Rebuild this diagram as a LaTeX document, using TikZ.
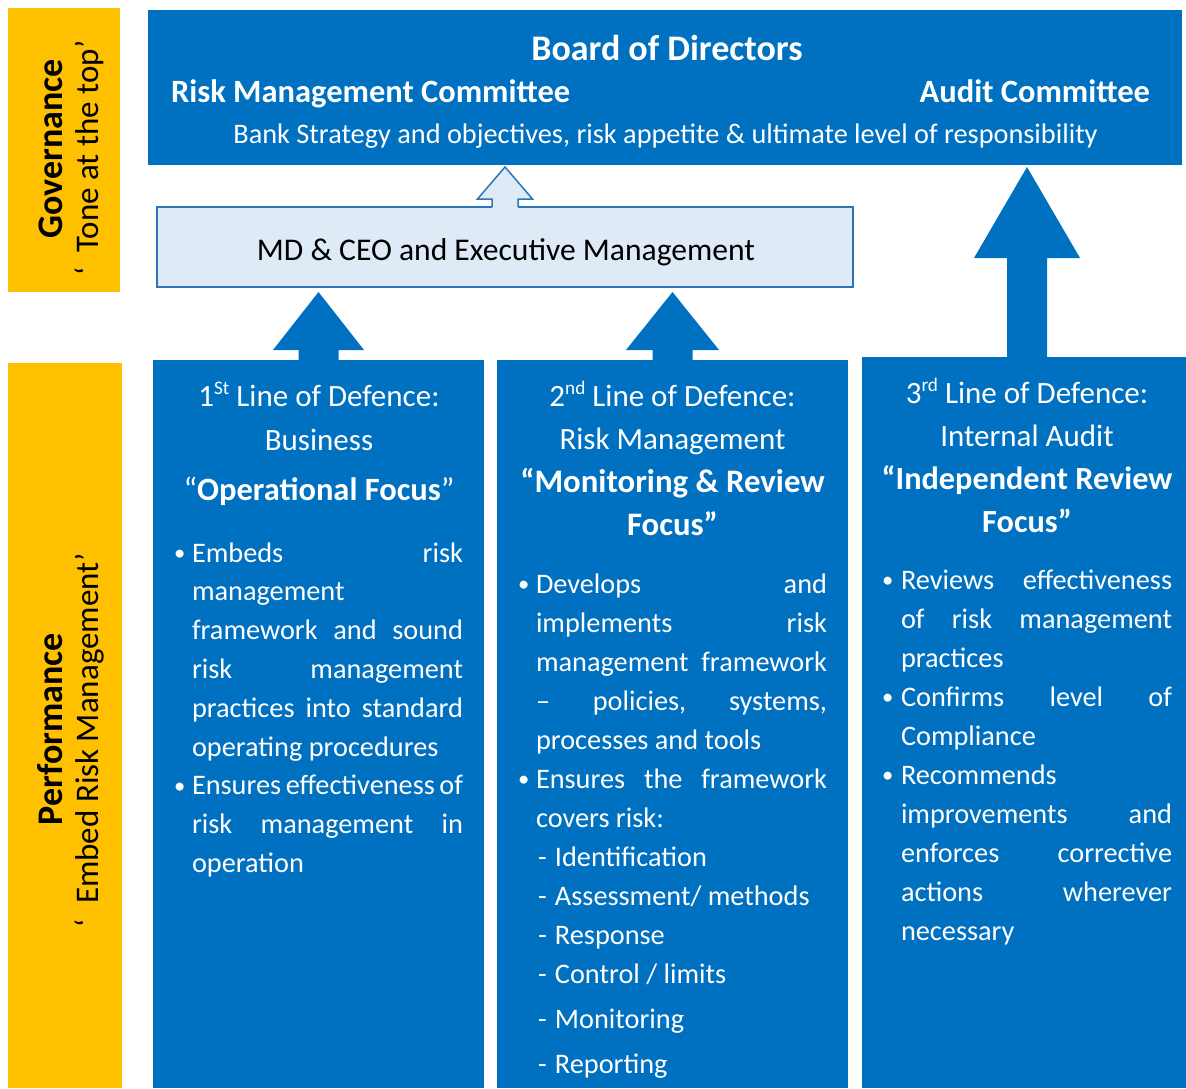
\documentclass[tikz,border=0pt]{standalone}
\usepackage{fontspec}
\setmainfont{Carlito}
\usepackage{graphicx}
\usetikzlibrary{calc}
\definecolor{bblue}{HTML}{0070C0}
\definecolor{gold}{HTML}{FFC000}
\definecolor{lblue}{HTML}{DEEBF7}
\definecolor{mblue}{HTML}{2E75B6}
\newlength\bw
\newcommand\bodyset[2]{\hsize=#1\baselineskip=#2\lineskiplimit=-100pt\frenchspacing\spaceskip=\fontdimen2\font plus 1fil minus \fontdimen4\font}
\newcommand\J[1]{\hbox to\hsize{#1}}
\newcommand\R[1]{\hbox to\hsize{#1\hfill}}
\newcommand\C[1]{\hbox to\hsize{\hfill#1\hfill}}
\newcommand\B{\hbox to\bw{\hskip-4pt\raisebox{.06em}{\scalebox{.8}{\textbullet}}\hss}}
\newcommand\I{\hskip\bw}
\newcommand\D{\hskip16pt\hbox to17pt{-\hss}}
\newcommand\sups[1]{\raisebox{.38em}{\scalebox{.62}{#1}}}
\newcommand\solidarrow[6]{%
  \fill[bblue] let \p1=(#1), \p2=(#2) in
    (\x1-#6,\y1) -- (\x1-#6,\y2-#3-#4) -- (\x1-#5,\y2-#3-#4) -- (\x1,\y2-#3)
    -- (\x1+#5,\y2-#3-#4) -- (\x1+#6,\y2-#3-#4) -- (\x1+#6,\y1) -- cycle;}
\begin{document}
\begin{tikzpicture}[x=1pt,y=-1pt,
  box/.style={inner sep=0pt, outer sep=0pt, anchor=north west, fill=bblue},
  goldbox/.style={inner sep=0pt, outer sep=0pt, anchor=north west, fill=gold},
  txt/.style={inner sep=0pt, outer sep=0pt, text=white},
  ltxt/.style={inner sep=0pt, outer sep=0pt, text=black, rotate=90, anchor=base},
  fb/.style={font=\fontsize{#1}{#1}\selectfont\bfseries},
  fr/.style={font=\fontsize{#1}{#1}\selectfont}]
\fill[white, use as bounding box] (0,0) rectangle (1186,1088);

% left bands
\node[goldbox, minimum width=112pt, minimum height=284pt] (gov) at (8,8) {};
\node[goldbox, minimum width=114pt, minimum height=725pt] (perf) at (8,363) {};
\node[ltxt, fb=36] (govt) at (62,149) {Governance};
\node[ltxt, fr=33] (tone) at (98,158) {‘\ \ Tone at the top’};
\node[ltxt, fb=36] (perft) at (62,729) {Performance};
\node[ltxt, fr=33] (embed) at (98,740) {‘\ \ Embed Risk Management’};

% board
\node[box, minimum width=1034pt, minimum height=155pt] (board) at (148,10) {};
\node[txt, fb=36, anchor=base] (bod) at (667,60) {Board of Directors};
\node[txt, fb=32.5, anchor=base west] (rmc) at (171,102) {Risk Management Committee};
\node[txt, fb=32.5, anchor=base east] (ac) at (1150,102) {Audit Committee};
\node[txt, fr=28.3, anchor=base] (bank) at (665.5,143) {Bank Strategy and objectives, risk appetite \& ultimate level of responsibility};

% MD box
\node[inner sep=0pt, outer sep=0pt, anchor=north west, fill=lblue, draw=mblue, line width=1.5pt,
  minimum width=696pt, minimum height=80pt] (md) at (157,207) {};
\node[inner sep=0pt, fr=31.6, anchor=base] (mdt) at (506,260) {MD \& CEO and Executive Management};

% columns
\node[box, minimum width=331pt, minimum height=728pt] (col1) at (153,360) {};
\node[box, minimum width=351pt, minimum height=728pt] (col2) at (497,360) {};
\node[box, minimum width=324pt, minimum height=731pt] (col3) at (862,357) {};
\coordinate (a3) at ($(col3.north)+(3,0)$);

% arrows
\solidarrow{col1.north}{md.south}{5pt}{58pt}{45.5pt}{20pt}
\solidarrow{col2.north}{md.south}{5pt}{58pt}{46.5pt}{20pt}
\solidarrow{a3}{board.south}{2pt}{91pt}{53pt}{20pt}
\fill[lblue] let \p1=(md.north), \p2=(board.south) in
  (\x1-13pt,\y1-2pt) -- (\x1-13pt,\y2-34pt) -- (\x1-27.5pt,\y2-34pt) -- (\x1,\y2-2pt)
  -- (\x1+27.5pt,\y2-34pt) -- (\x1+13pt,\y2-34pt) -- (\x1+13pt,\y1-2pt) -- cycle;
\draw[mblue, line width=1.5pt] let \p1=(md.north), \p2=(board.south) in
  (\x1-13pt,\y1) -- (\x1-13pt,\y2-34pt) -- (\x1-27.5pt,\y2-34pt) -- (\x1,\y2-2pt)
  -- (\x1+27.5pt,\y2-34pt) -- (\x1+13pt,\y2-34pt) -- (\x1+13pt,\y1);

% column 1
\node[txt, fr=31, anchor=base] (c1t) at (319,406) {\vtop{\hsize=400pt\baselineskip=44pt\lineskiplimit=-100pt
  \C{1\sups{St} Line of Defence:}
  \C{Business}
  \vskip6pt
  \C{\fontsize{32.5}{32.5}\selectfont\bfseries{\mdseries “}Operational Focus{\mdseries ”}}}};
\node[txt, fr=28.3, anchor=base west] (c1b) at (178,562) {\vtop{\bodyset{285pt}{38.8pt}\bw=14pt
  \J{\B Embeds risk}
  \R{\I management}
  \J{\I framework and sound}
  \J{\I risk management}
  \J{\I practices into standard}
  \R{\I operating procedures}
  \J{\B Ensures effectiveness of}
  \J{\I risk management in}
  \R{\I operation}}};

% column 2
\node[txt, fr=31, anchor=base] (c2t) at (672.5,406) {\vtop{\hsize=400pt\baselineskip=43pt\lineskiplimit=-100pt
  \C{2\sups{nd} Line of Defence:}
  \C{Risk Management}
  \C{\fontsize{32.8}{32.8}\selectfont\bfseries “Monitoring \& Review}
  \C{\fontsize{32.8}{32.8}\selectfont\bfseries Focus”}}};
\node[txt, fr=28.3, anchor=base west] (c2b) at (522,593) {\vtop{\bodyset{305pt}{39pt}\bw=14pt
  \J{\B Develops and}
  \J{\I implements risk}
  \J{\I management framework}
  \J{\I – policies, systems,}
  \R{\I processes and tools}
  \J{\B Ensures the framework}
  \R{\I covers risk:}
  \R{\D Identification}
  \R{\D Assessment/ methods}
  \R{\D Response}
  \R{\D Control / limits}
  \vskip6pt
  \R{\D Monitoring}
  \vskip6pt
  \R{\D Reporting}}};

% column 3
\node[txt, fr=31, anchor=base] (c3t) at (1027,403) {\vtop{\hsize=400pt\baselineskip=43pt\lineskiplimit=-100pt
  \C{3\sups{rd} Line of Defence:}
  \C{Internal Audit}
  \C{\fontsize{32.3}{32.3}\selectfont\bfseries “Independent Review}
  \C{\fontsize{32.3}{32.3}\selectfont\bfseries Focus”}}};
\node[txt, fr=28.3, anchor=base west] (c3b) at (886,589) {\vtop{\bodyset{286pt}{39pt}\bw=15pt
  \J{\B Reviews effectiveness}
  \J{\I of risk management}
  \R{\I practices}
  \J{\B Confirms level of}
  \R{\I Compliance}
  \R{\B Recommends}
  \J{\I improvements and}
  \J{\I enforces corrective}
  \J{\I actions wherever}
  \R{\I necessary}}};
\end{tikzpicture}
\end{document}
